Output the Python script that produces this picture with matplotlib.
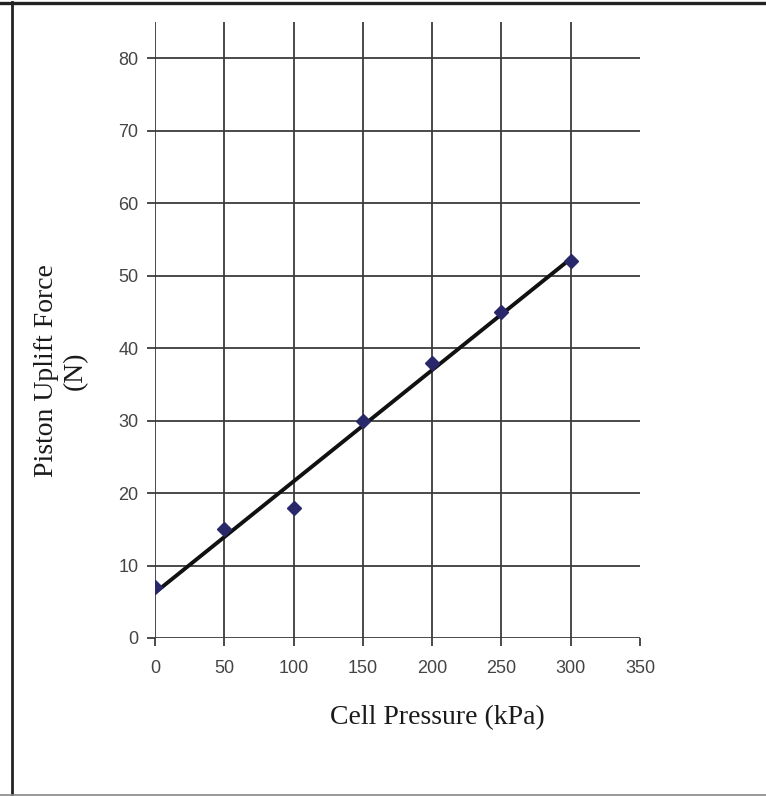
import numpy as np
import matplotlib
matplotlib.use("Agg")
import matplotlib.pyplot as plt
from matplotlib.lines import Line2D

# Measured piston uplift force at each cell pressure
cell_pressure = [0, 50, 100, 150, 200, 250, 300]
uplift_force = [7, 15, 18, 30, 38, 45, 52]

x_ticks = [0, 50, 100, 150, 200, 250, 300, 350]
y_ticks = [0, 10, 20, 30, 40, 50, 60, 70, 80]

grid_col = "#3c3c3c"
tick_col = "#444444"
tick_font = ["Liberation Sans Narrow", "Liberation Sans"]

fig = plt.figure(figsize=(7.66, 7.96), dpi=100)
ax = fig.add_axes([0.2024, 0.1985, 0.633, 0.774])

# gridlines drawn by hand so the verticals run to the top of the axes
for xv in x_ticks[:-1]:
    ax.axvline(xv, color=grid_col, lw=1.3, zorder=1)
for yv in y_ticks:
    ax.axhline(yv, color=grid_col, lw=1.3, zorder=1)

# linear trend line
slope, intercept = np.polyfit(cell_pressure, uplift_force, 1)
xs = np.array([cell_pressure[0], cell_pressure[-1]])
ax.plot(xs, slope * xs + intercept, color="#111111", lw=2.8,
        solid_capstyle="butt", zorder=3)

ax.plot(cell_pressure, uplift_force, linestyle="none", marker="D",
        ms=7, color="#28286a", zorder=4)

ax.set_xlim(0, 350)
ax.set_ylim(0, 85)
ax.set_xticks(x_ticks)
ax.set_yticks(y_ticks)
for s in ["top", "right", "left", "bottom"]:
    ax.spines[s].set_visible(False)
ax.tick_params(axis="both", direction="out", length=6, width=1.3,
               color=grid_col, labelcolor=tick_col, labelsize=13)
ax.tick_params(axis="x", pad=10)
ax.tick_params(axis="y", pad=6)
for lab in ax.get_xticklabels() + ax.get_yticklabels():
    lab.set_fontfamily(tick_font)

fig.text(0.571, 0.098, "Cell Pressure (kPa)", family="Liberation Serif",
         fontsize=20, color="#1a1a1a", ha="center", va="center")
fig.text(0.0795, 0.534, "Piston Uplift Force\n(N)", family="Liberation Serif",
         fontsize=20, color="#1a1a1a", ha="center", va="center",
         rotation=90, multialignment="center", linespacing=1.2)

# frame around the figure: heavy top and left edges, light bottom
fig.add_artist(Line2D([0, 1], [0.9965, 0.9965], transform=fig.transFigure,
                      color="#222222", lw=2.4))
fig.add_artist(Line2D([0.0155, 0.0155], [0, 0.9975], transform=fig.transFigure,
                      color="#222222", lw=2.0))
fig.add_artist(Line2D([0, 1], [0.001, 0.001], transform=fig.transFigure,
                      color="#888888", lw=1.2))

fig.savefig("out.png", dpi=100)
